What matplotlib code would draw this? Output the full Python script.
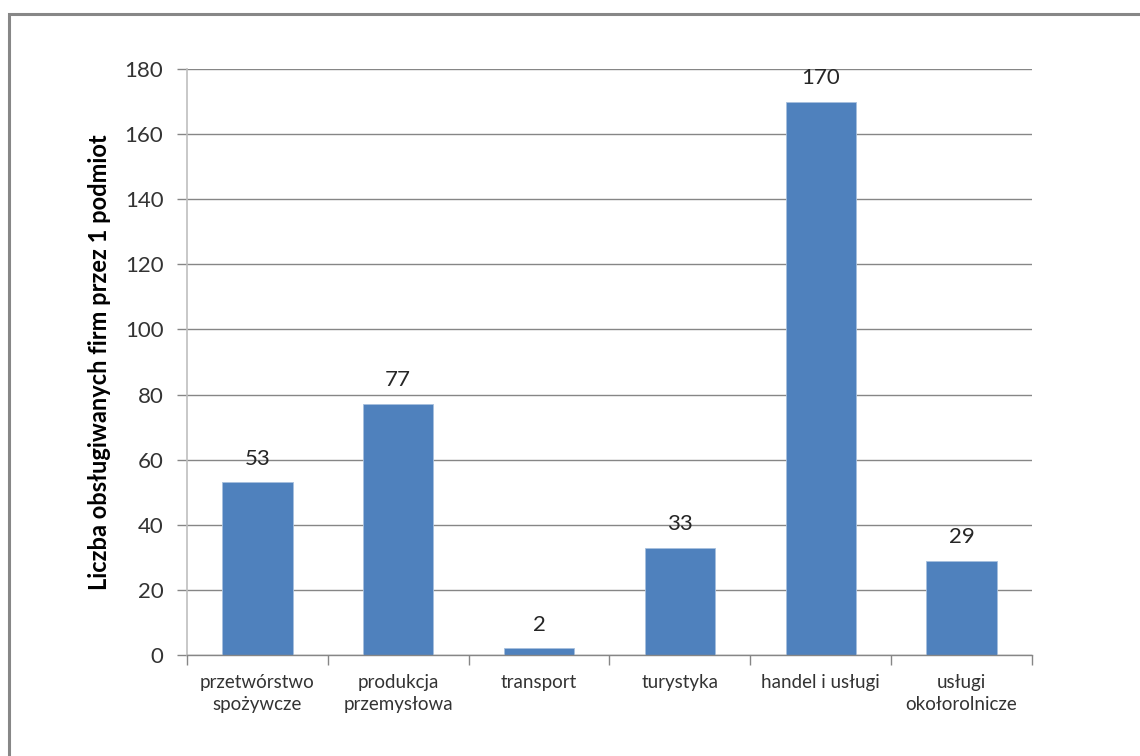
import numpy as np
import matplotlib
matplotlib.use('Agg')
import matplotlib.pyplot as plt
from matplotlib.patches import Rectangle

plt.rcParams['font.family'] = ['Lato', 'DejaVu Sans']

# Data
categories = ['przetwórstwo\nspożywcze', 'produkcja\nprzemysłowa', 'transport',
              'turystyka', 'handel i usługi', 'usługi\nokołorolnicze']
values = [53, 77, 2, 33, 170, 29]
y_ticks = [0, 20, 40, 60, 80, 100, 120, 140, 160, 180]
y_label = 'Liczba obsługiwanych firm przez 1 podmiot'

fig = plt.figure(figsize=(11.4, 7.56), dpi=100)
fig.patches.append(Rectangle((9 / 1140, -0.2), 2.0, 1.2 - 13.5 / 756,
                             transform=fig.transFigure, fill=False,
                             edgecolor='#878787', linewidth=2.2, zorder=0))

ax = fig.add_axes([187 / 1140, 1 - 655 / 756, 845 / 1140, 586 / 756])
x = np.arange(len(categories))
bars = ax.bar(x, values, width=0.5, color='#4F81BD', edgecolor='#A7C0DE',
              linewidth=0.6, zorder=3)

for xi, v in zip(x, values):
    ax.annotate(str(v), (xi, v), xytext=(0, 10), textcoords='offset points',
                ha='center', va='bottom', fontsize=16, color='#262626')

ax.set_xlim(-0.5, len(categories) - 0.5)
ax.set_ylim(0, 180)
ax.set_yticks(y_ticks)
ax.set_xticks(x)
ax.set_xticklabels(categories, fontsize=13.5, color='#333333', linespacing=1.35)
ax.set_xticks(np.arange(-0.5, len(categories)), minor=True)
ax.tick_params(axis='x', which='major', length=0, pad=14)
ax.tick_params(axis='x', which='minor', length=7, color='#868686', width=1)
ax.tick_params(axis='y', length=7, color='#868686', width=1, labelsize=16,
               labelcolor='#333333', pad=10)

ax.grid(axis='y', color='#868686', linewidth=1, zorder=0)
ax.set_axisbelow(True)
for side in ['top', 'right']:
    ax.spines[side].set_visible(False)
ax.spines['left'].set_color('#BFBFBF')
ax.spines['left'].set_linewidth(1.2)
ax.spines['bottom'].set_color('#868686')
ax.spines['bottom'].set_linewidth(1)
ax.spines['bottom'].set_zorder(4)

ax.set_ylabel(y_label, fontsize=17, fontweight='bold', color='black', labelpad=10)

fig.savefig('out.png', dpi=100)
